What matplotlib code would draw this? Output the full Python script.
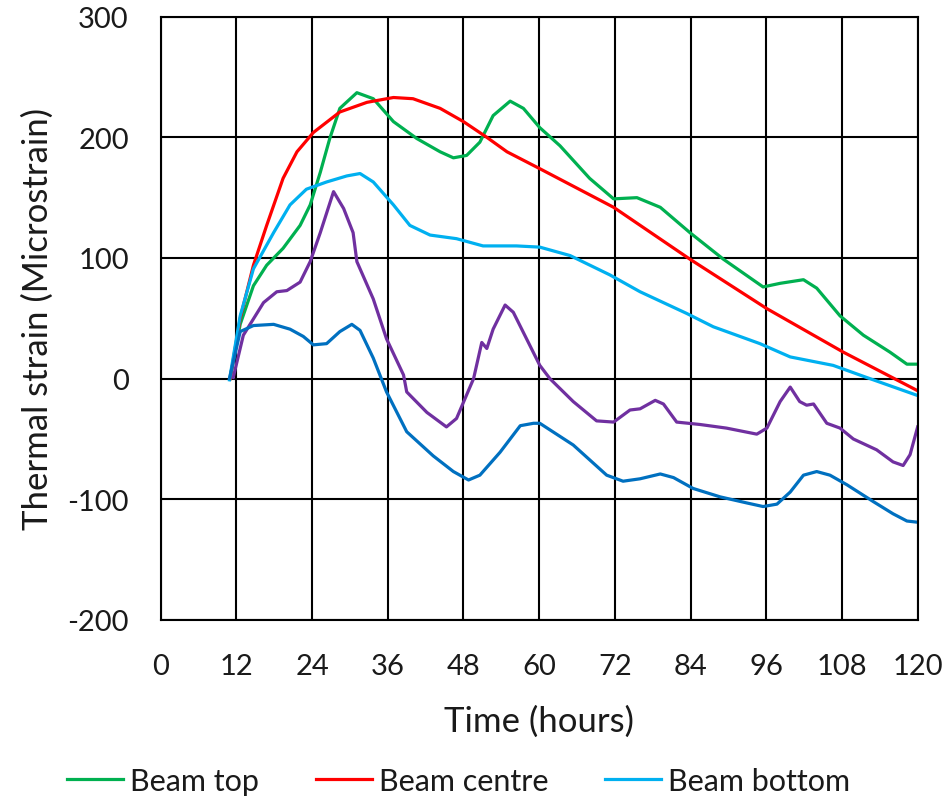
import numpy as np
import matplotlib
matplotlib.use('Agg')
import matplotlib.pyplot as plt

plt.rcParams['font.family'] = ['Lato', 'DejaVu Sans']
plt.rcParams['axes.unicode_minus'] = False

# Beam top (green)
top_t = [11, 12.6, 14.7, 16.8, 19.4, 22.1, 23.7, 25.3, 26.8, 28.4, 31.1, 33.7, 36.9, 40.6,
         44.3, 46.4, 48.5, 50.6, 52.7, 55.4, 57.5, 60.1, 63.3, 68, 71.8, 75.5, 79.2, 83.9,
         89.2, 95.5, 98.2, 101.9, 104, 107.7, 111.4, 115.6, 118.3, 120]
top_y = [0, 45, 77, 94, 108, 127, 144, 171, 199, 224, 237, 232, 213, 199,
         188, 183, 185, 196, 218, 230, 224, 208, 193, 166, 149, 150, 142, 121,
         99, 76, 79, 82, 75, 52, 36, 22, 12, 12]

# Beam centre (red)
centre_t = [11, 12.6, 14.7, 16.8, 19.4, 21.6, 24.2, 28.4, 32.7, 36.9, 40, 44.3, 48, 51.7,
            54.9, 60.1, 71.8, 83.9, 96.1, 108.2, 120]
centre_y = [0, 50, 94, 127, 166, 188, 204, 221, 229, 233, 232, 224, 213, 200,
            188, 174, 142, 99, 58, 22, -10]

# Beam bottom (light blue)
bottom_t = [10.9, 12.6, 14.7, 17.9, 20.5, 23.1, 26.3, 29.5, 31.6, 33.7, 36.9, 39.5, 42.7,
            46.9, 51.1, 56.4, 60.1, 64.9, 71.2, 76, 83.4, 87.6, 95, 99.8, 106.6, 111.9, 120]
bottom_y = [-1, 52, 91, 121, 144, 157, 163, 168, 170, 163, 144, 127, 119,
            116, 110, 110, 109, 102, 86, 72, 54, 43, 29, 18, 11, 1, -14]

# unlabeled series (purple)
purple_t = [11.5, 13.1, 16.3, 18.4, 20, 22.1, 23.7, 25.3, 27.4, 29, 30.5, 31.1, 33.7, 35.8,
            38.5, 39, 42.2, 45.3, 46.9, 49.6, 50.9, 51.7, 52.7, 54.6, 55.9, 58, 60.1,
            61.7, 65.4, 69.1, 71.8, 74.4, 76, 78.4, 79.7, 81.8, 85.5, 89.7, 94.5, 96.1,
            98.2, 99.8, 101.3, 102.4, 103.5, 105.6, 107.7, 109.8, 113.5, 116.1, 117.7,
            118.8, 120]
purple_y = [1, 36, 63, 72, 73, 80, 97, 121, 155, 141, 121, 97, 66, 33,
            3, -11, -28, -40, -33, 0, 30, 25, 41, 61, 55, 33, 11,
            0, -19, -35, -36, -26, -25, -18, -21, -36, -38, -41, -46, -41,
            -19, -7, -19, -22, -21, -37, -41, -50, -59, -69, -72,
            -63, -40]

# unlabeled series (dark blue)
dblue_t = [10.9, 12.6, 14.7, 17.9, 20.5, 22.6, 24.2, 26.3, 28.4, 30.3, 31.6, 33.7, 35.8,
           39, 43.2, 46.4, 48.8, 50.6, 53.8, 57, 59.1, 60.1, 65.4, 70.7, 73.3, 76, 79.2,
           81.3, 84.4, 88.7, 92.9, 95.5, 97.7, 99.8, 101.9, 104, 106.1, 108.8, 113,
           116.1, 118.3, 120]
dblue_y = [0, 39, 44, 45, 41, 35, 28, 29, 39, 45, 40, 17, -11,
           -44, -64, -77, -84, -80, -61, -39, -37, -37, -55, -80, -85, -83, -79,
           -82, -91, -98, -103, -106, -104, -94, -80, -77, -80, -88, -102,
           -112, -118, -119]

xticks = list(range(0, 121, 12))
yticks = list(range(-200, 301, 100))

fig = plt.figure(figsize=(9.47, 8.03), dpi=100)
ax = fig.add_axes([0.1697, 0.2267, 0.969 - 0.1697, 0.978 - 0.2267])

lw = 2.3
ax.plot(top_t, top_y, color='#00B050', lw=lw, label='Beam top')
ax.plot(centre_t, centre_y, color='#FF0000', lw=lw, label='Beam centre')
ax.plot(bottom_t, bottom_y, color='#00B0F0', lw=lw, label='Beam bottom')
ax.plot(purple_t, purple_y, color='#7030A0', lw=lw)
ax.plot(dblue_t, dblue_y, color='#0070C0', lw=lw)

ax.set_xlim(0, 120)
ax.set_ylim(-200, 300)
ax.set_xticks(xticks)
ax.set_yticks(yticks)
ax.grid(True, color='black', lw=1.5)
for s in ax.spines.values():
    s.set_color('black')
    s.set_linewidth(1.5)
ax.tick_params(axis='both', length=0, labelsize=21, labelcolor='#1a1a1a')
ax.tick_params(axis='x', pad=24)
ax.tick_params(axis='y', pad=23)
ax.set_xlabel('Time (hours)', fontsize=25, color='#1a1a1a')
ax.set_ylabel('Thermal strain (Microstrain)', fontsize=25, color='#1a1a1a')
ax.xaxis.label.set_va('center')
ax.yaxis.label.set_va('center')
ax.xaxis.set_label_coords(0.5, -0.167)
ax.yaxis.set_label_coords(-0.163, 0.5)

handles, labels = ax.get_legend_handles_labels()
fig.legend(handles, labels, loc='center left', bbox_to_anchor=(67 / 947, 1 - 782 / 803),
           ncol=3, frameon=False, fontsize=22, handlelength=1.83, handletextpad=0.23,
           columnspacing=1.86, borderaxespad=0, borderpad=0, labelcolor='#1a1a1a')

fig.savefig('out.png', dpi=100)
